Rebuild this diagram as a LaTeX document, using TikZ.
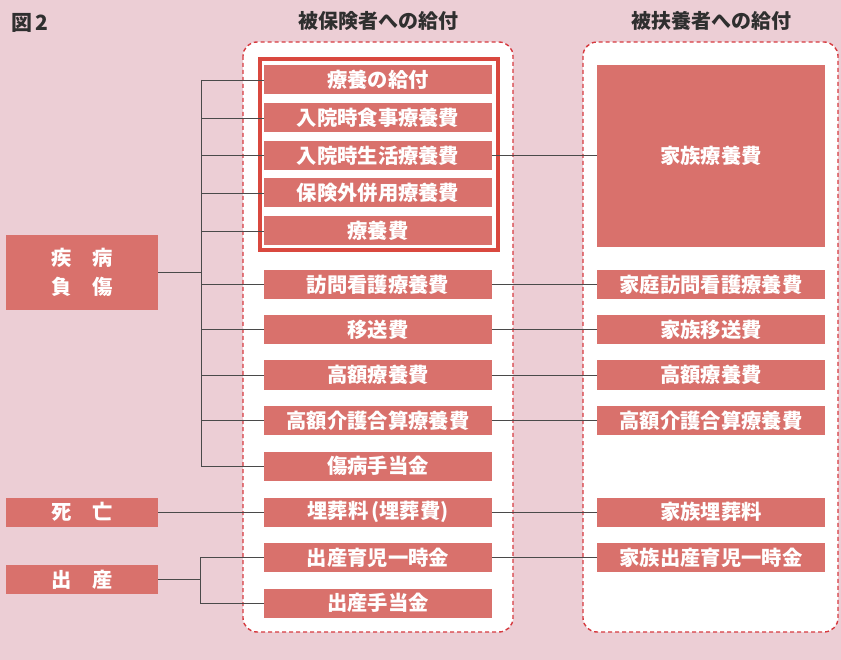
\documentclass[tikz,border=0pt]{standalone}
\usepackage{fontspec}
\newfontfamily\jp{Noto Sans CJK JP}
\definecolor{bgc}{HTML}{ECCED5}
\definecolor{boxc}{HTML}{D9716C}
\definecolor{framec}{HTML}{D9483F}
\definecolor{dashc}{HTML}{D63A3F}
\definecolor{linec}{HTML}{4A4A4A}
\definecolor{headc}{HTML}{2F2F2F}
\tikzset{
  box/.style={fill=boxc, text=white, font=\jp\bfseries\fontsize{20.3}{24}\selectfont,
    minimum width=228pt, minimum height=29pt, inner sep=0pt, anchor=center},
  leftbox/.style={box, minimum width=152pt},
  container/.style={draw=dashc, fill=white, line width=1.4pt, dash pattern=on 4pt off 3pt, rounded corners=14pt},
  conn/.style={draw=linec, line width=0.8pt},
  header/.style={text=headc, font=\jp\bfseries\fontsize{20}{24}\selectfont, inner sep=0pt}
}
\begin{document}
\begin{tikzpicture}[x=1pt,y=-1pt]
\useasboundingbox (0,0) rectangle (841,660);
\fill[bgc] (0,0) rectangle (841,660);
% title and headers
\node[header, anchor=west, font=\jp\bfseries\fontsize{21}{24}\selectfont] (title) at (11,23) {図\,2};
\node[header] (h1) at (378,21) {被保険者への給付};
\node[header] (h2) at (711,21) {被扶養者への給付};
% containers
\path[container] (243,42) rectangle (513,632);
\path[container] (583,42) rectangle (838,632);
% red frame
\draw[framec, line width=4pt] (260,59) rectangle (498,250);
% nodes
\node[box] (ryoyo)    at (378,80)    {療養の給付};
\node[box] (shokuji)  at (378,118)   {入院時食事療養費};
\node[box] (seikatsu) at (378,155.5) {入院時生活療養費};
\node[box] (heiyo)    at (378,193)   {保険外併用療養費};
\node[box] (ryoyohi)  at (378,231)   {療養費};
\node[box] (houmon)   at (378,284.5) {訪問看護療養費};
\node[box] (isou)     at (378,329.5) {移送費};
\node[box] (kougaku)  at (378,375)   {高額療養費};
\node[box] (kaigo)    at (378,420.5) {高額介護合算療養費};
\node[box] (shoubyou) at (378,466)   {傷病手当金};
\node[box] (maisou)   at (378,512)   {埋葬料\hspace{3pt}(埋葬費)};
\node[box] (ikuji)    at (378,557.5) {出産育児一時金};
\node[box] (teate)    at (378,603)   {出産手当金};
\node[box, minimum height=182pt] (kazoku) at (711,156) {家族療養費};
\node[box] (khoumon)  at (711,284.5) {家庭訪問看護療養費};
\node[box] (kisou)    at (711,329.5) {家族移送費};
\node[box] (kkougaku) at (711,375)   {高額療養費};
\node[box] (kkaigo)   at (711,420.5) {高額介護合算療養費};
\node[box] (kmaisou)  at (711,512)   {家族埋葬料};
\node[box] (kikuji)   at (711,557.5) {家族出産育児一時金};
\node[leftbox, minimum height=75pt, align=center] (shippei) at (82,272.5) {疾　病\\[5pt]負　傷};
\node[leftbox] (shibou)   at (82,512) {死　亡};
\node[leftbox] (shussan)  at (82,579.5) {出　産};
% connectors
\draw[conn] (shippei.east) -- ++(43,0) coordinate (j1);
\draw[conn] (ryoyo.west -| j1) -- (shoubyou.west -| j1);
\foreach \n in {ryoyo,shokuji,seikatsu,heiyo,ryoyohi,houmon,isou,kougaku,kaigo,shoubyou}
  \draw[conn] (\n.west -| j1) -- (\n.west);
\draw[conn] (shibou.east) -- (maisou.west);
\draw[conn] (shussan.east) -- ++(42,0) coordinate (j2);
\draw[conn] (ikuji.west -| j2) -- (teate.west -| j2);
\foreach \n in {ikuji,teate}
  \draw[conn] (\n.west -| j2) -- (\n.west);
\draw[conn] (seikatsu.east) -- (seikatsu.east -| kazoku.west);
\draw[conn] (houmon.east) -- (khoumon.west);
\draw[conn] (isou.east) -- (kisou.west);
\draw[conn] (kougaku.east) -- (kkougaku.west);
\draw[conn] (kaigo.east) -- (kkaigo.west);
\draw[conn] (maisou.east) -- (kmaisou.west);
\draw[conn] (ikuji.east) -- (kikuji.west);
\end{tikzpicture}
\end{document}
